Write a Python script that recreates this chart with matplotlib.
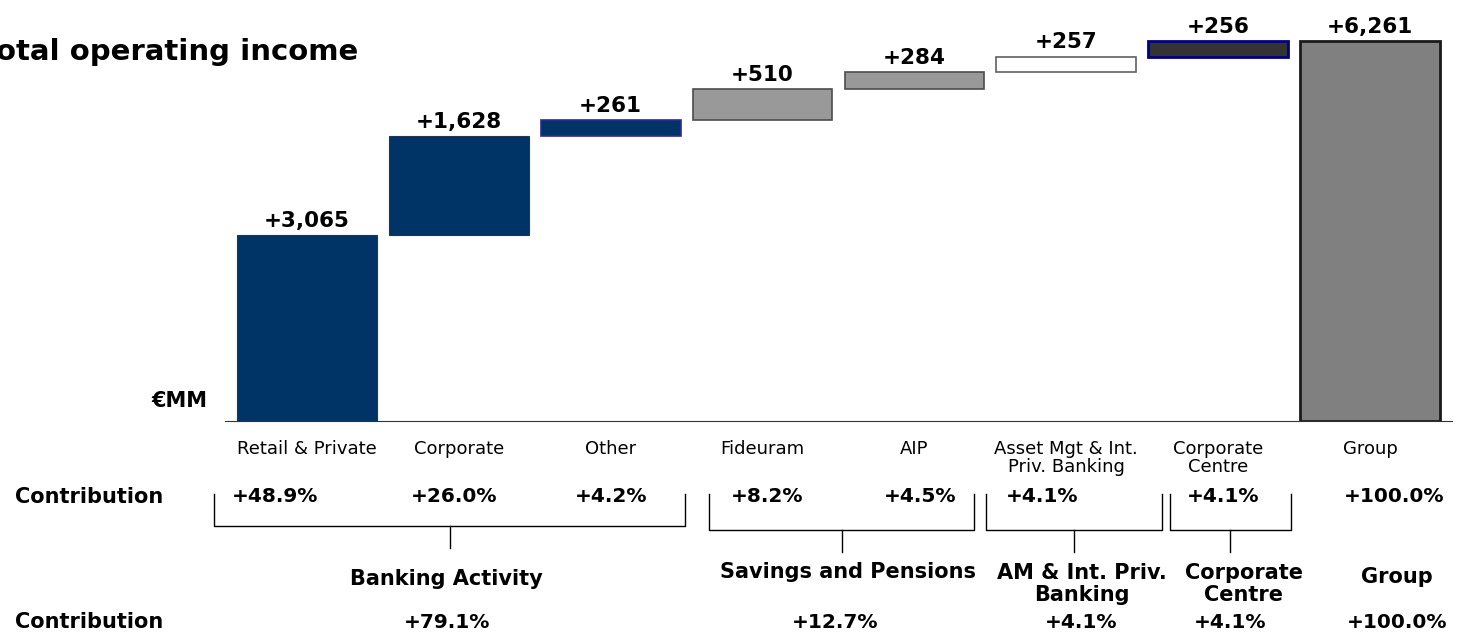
import matplotlib
matplotlib.use('Agg')
import matplotlib.pyplot as plt
import matplotlib.transforms as mtransforms

plt.rcParams['font.family'] = ['DejaVu Sans']

# data
categories = ['Retail & Private', 'Corporate', 'Other', 'Fideuram', 'AIP',
              'Asset Mgt & Int.\nPriv. Banking', 'Corporate\nCentre', 'Group']
values = [3065, 1628, 261, 510, 284, 257, 256, 6261]
value_labels = ['+3,065', '+1,628', '+261', '+510', '+284', '+257', '+256', '+6,261']
contrib = ['+48.9%', '+26.0%', '+4.2%', '+8.2%', '+4.5%', '+4.1%', '+4.1%', '+100.0%']
groups = ['Banking Activity', 'Savings and Pensions', 'AM & Int. Priv.\nBanking',
          'Corporate\nCentre', 'Group']
group_contrib = ['+79.1%', '+12.7%', '+4.1%', '+4.1%', '+100.0%']

# styles / layout
faces = ['#003366', '#003366', '#003366', '#999999', '#999999', '#ffffff', '#333333', '#808080']
edges = ['#1f3550', '#1f3550', '#2b2b99', '#4d4d4d', '#4d4d4d', '#606060', '#000080', '#1a1a1a']
lws = [0.8, 0.8, 1.2, 1.2, 1.2, 1.2, 2.0, 2.0]
contrib_x = [-0.21, 0.97, 2.0, 3.03, 4.04, 4.84, 6.03, 7.16]
brackets = [(-0.61, 2.49), (2.65, 4.39), (4.47, 5.63), (5.68, 6.48)]
group_x = [0.92, 3.56, 5.1, 6.17, 7.18]
gc_x = [0.92, 3.48, 5.1, 6.08, 7.18]

W, H = 1461, 635
fig = plt.figure(figsize=(W / 100, H / 100), dpi=100)
ax = fig.add_axes([225 / W, 1 - 421 / H, (1452 - 225) / W, 421 / H])

bottoms = []
run = 0
for v in values[:-1]:
    bottoms.append(run)
    run += v
bottoms.append(0)

x = list(range(len(values)))
ax.bar(x, values, bottom=bottoms, width=0.92, color=faces, edgecolor=edges, linewidth=lws)
for i in x:
    ax.annotate(value_labels[i], (i, bottoms[i] + values[i]), xytext=(0, 3),
                textcoords='offset points', ha='center', va='bottom',
                fontsize=15.5, fontweight='bold')

ax.set_xlim(-0.54, 7.54)
ax.set_ylim(0, 6261 * 421 / 380)
for s in ['top', 'left', 'right']:
    ax.spines[s].set_visible(False)
ax.spines['bottom'].set_color('#333333')
ax.set_yticks([])
ax.set_xticks(x)
ax.set_xticklabels(categories, fontsize=13, linespacing=1.0)
ax.tick_params(axis='x', length=0, pad=14)

def fy(py):
    return 1 - py / H

fig.text(358 / W, fy(52), 'Total operating income', ha='right', va='center',
         fontsize=21, fontweight='bold')
fig.text(207 / W, fy(401), '€MM', ha='right', va='center', fontsize=15, fontweight='bold')
fig.text(15 / W, fy(497), 'Contribution', ha='left', va='center', fontsize=15, fontweight='bold')
fig.text(15 / W, fy(622), 'Contribution', ha='left', va='center', fontsize=15, fontweight='bold')

tr = mtransforms.blended_transform_factory(ax.transData, fig.transFigure)
for cx, c in zip(contrib_x, contrib):
    ax.text(cx, fy(497), c, transform=tr, ha='center', va='center',
            fontsize=14.5, fontweight='bold')

bracket_y = [526, 530, 530, 530]
for (l, r), by in zip(brackets, bracket_y):
    mid = (l + r) / 2
    ax.plot([l, l, r, r], [fy(494), fy(by), fy(by), fy(494)], transform=tr,
            color='black', lw=1, clip_on=False)
    ax.plot([mid, mid], [fy(by), fy(by + 22)], transform=tr, color='black', lw=1, clip_on=False)

group_y = [579, 572, 584, 584, 577]
for gx, g, gy in zip(group_x, groups, group_y):
    ax.text(gx, fy(gy), g, transform=tr, ha='center', va='center',
            fontsize=15, fontweight='bold', linespacing=1.1)
for gx, g in zip(gc_x, group_contrib):
    ax.text(gx, fy(622), g, transform=tr, ha='center', va='center',
            fontsize=14.5, fontweight='bold')

fig.savefig('out.png', dpi=100)
